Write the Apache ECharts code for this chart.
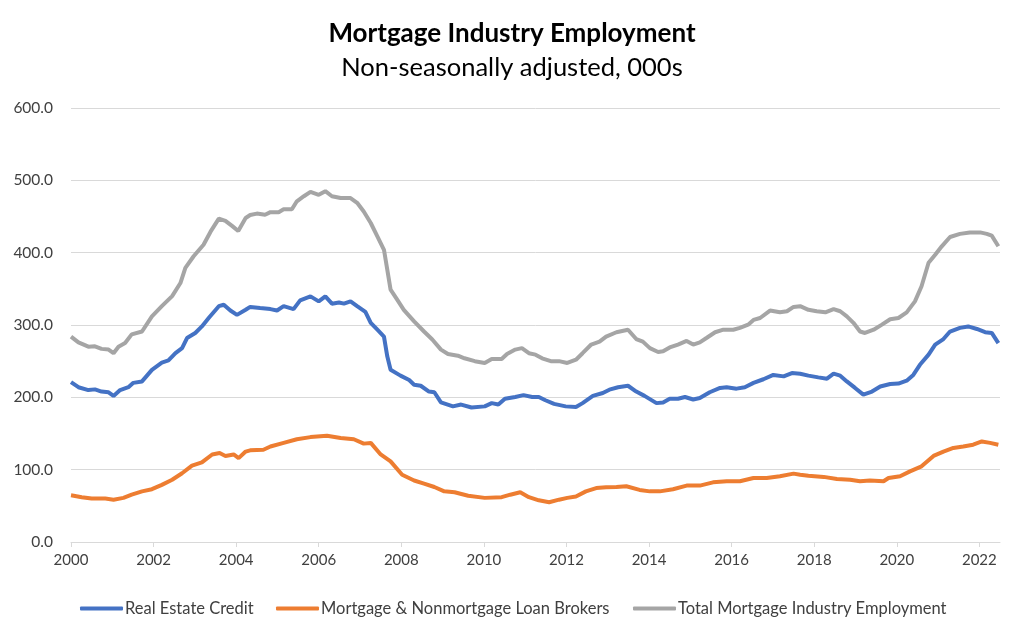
<!DOCTYPE html>
<html>
<head>
<meta charset="utf-8">
<script src="https://cdn.jsdelivr.net/npm/echarts@6/dist/echarts.min.js"></script>
<style>
html,body{margin:0;padding:0;background:#fff;}
#chart{width:1024px;height:636px;}
</style>
</head>
<body>
<div id="chart"></div>
<script>
// Tick labels
const xTickYears = [2000,2002,2004,2006,2008,2010,2012,2014,2016,2018,2020,2022];
const seriesNames = ['Real Estate Credit','Mortgage & Nonmortgage Loan Brokers','Total Mortgage Industry Employment'];

// Real Estate Credit (000s)
const creditYears = [2000.00,2000.18,2000.42,2000.58,2000.74,2000.91,2001.03,2001.19,2001.39,2001.51,2001.72,2001.96,2002.20,2002.36,2002.53,2002.69,2002.81,2003.01,2003.17,2003.34,2003.58,2003.70,2003.86,2004.02,2004.23,2004.34,2004.58,2004.83,2004.99,2005.15,2005.39,2005.55,2005.80,2006.00,2006.16,2006.32,2006.49,2006.61,2006.77,2006.93,2007.13,2007.26,2007.42,2007.58,2007.66,2007.74,2007.98,2008.19,2008.31,2008.47,2008.67,2008.80,2008.96,2009.25,2009.45,2009.70,2010.02,2010.19,2010.35,2010.51,2010.76,2010.96,2011.17,2011.33,2011.49,2011.70,2011.98,2012.23,2012.39,2012.64,2012.88,2013.04,2013.25,2013.49,2013.69,2013.89,2014.18,2014.34,2014.50,2014.70,2014.87,2015.07,2015.23,2015.47,2015.72,2015.88,2016.12,2016.32,2016.53,2016.77,2017.01,2017.26,2017.46,2017.66,2017.86,2018.10,2018.31,2018.47,2018.63,2018.79,2018.99,2019.19,2019.40,2019.60,2019.84,2020.04,2020.24,2020.40,2020.56,2020.77,2020.93,2021.13,2021.29,2021.53,2021.73,2021.94,2022.14,2022.30,2022.46];
const creditValues = [221,214,210,211,208,207,202,210,214,220,222,238,248,251,261,268,282,289,298,310,326,328,320,314,321,325,323.5,322,320,326,322,334,339.6,332.7,339.6,329.5,331,329.5,332.7,326,318,303,293.5,284,256.7,238,230,224,217.5,216,208,207,193,187.5,190,186,187.5,192,190,198,200.5,203,200.5,200.5,196,191,187.5,186.6,192,202,206,210.6,214,216,208,202,192,193,198,198,200.5,197,199,207,213,214,212,214,220,225,231,229,233.6,232.7,230,227.6,225.8,232.7,230,222,213,203.7,208,215,218.4,219,223,231,245,259,272.8,280.6,291,296,298,294.5,290,289,275];

// Mortgage & Nonmortgage Loan Brokers (000s)
const brokerYears = [2000.00,2000.26,2000.50,2000.83,2001.03,2001.27,2001.47,2001.72,2001.96,2002.20,2002.45,2002.69,2002.93,2003.17,2003.42,2003.60,2003.74,2003.94,2004.06,2004.23,2004.34,2004.66,2004.83,2005.15,2005.47,2005.80,2006.20,2006.53,2006.85,2007.09,2007.26,2007.50,2007.74,2008.02,2008.31,2008.55,2008.80,2009.04,2009.29,2009.62,2010.02,2010.43,2010.64,2010.88,2011.09,2011.33,2011.58,2011.82,2012.02,2012.23,2012.47,2012.72,2012.96,2013.21,2013.45,2013.77,2014.02,2014.26,2014.58,2014.91,2015.23,2015.55,2015.88,2016.20,2016.53,2016.85,2017.17,2017.50,2017.66,2017.86,2018.23,2018.55,2018.87,2019.11,2019.35,2019.68,2019.80,2020.08,2020.32,2020.60,2020.89,2021.13,2021.37,2021.61,2021.85,2022.06,2022.26,2022.46];
const brokerValues = [64.5,62,60,60,58.5,61,65.4,70,73,79,86,95,105.5,110,121,123,119,121,116,125,126.7,127.6,132,137,142,145,147,143.8,142,136,137,121,111.5,93,85,80.6,76,70,68.7,64,61,62,65.4,68.7,62,57.6,55,58.5,61,63,70,74.6,75.6,76,77,72,70,70,73,78,78,82.5,84,84,88.5,88.5,91,94.5,93,91.7,90,87,86,84,85,84,88.5,91,97.7,104.6,119,125,130,132,134.5,139,137,134.5];

// Total Mortgage Industry Employment (000s)
const totalYears = [2000.00,2000.18,2000.42,2000.58,2000.74,2000.91,2001.03,2001.15,2001.31,2001.47,2001.72,2001.96,2002.20,2002.45,2002.65,2002.77,2002.97,2003.21,2003.38,2003.58,2003.74,2003.90,2004.05,2004.23,2004.34,2004.50,2004.70,2004.83,2005.03,2005.15,2005.35,2005.47,2005.64,2005.80,2006.00,2006.16,2006.32,2006.53,2006.77,2006.93,2007.09,2007.26,2007.42,2007.58,2007.66,2007.74,2007.90,2008.06,2008.31,2008.55,2008.75,2008.96,2009.13,2009.37,2009.53,2009.78,2010.02,2010.19,2010.43,2010.56,2010.76,2010.92,2011.09,2011.25,2011.41,2011.62,2011.82,2012.02,2012.23,2012.39,2012.60,2012.80,2012.96,2013.21,2013.49,2013.69,2013.85,2014.02,2014.22,2014.34,2014.50,2014.70,2014.91,2015.07,2015.23,2015.39,2015.60,2015.80,2016.04,2016.20,2016.40,2016.53,2016.69,2016.93,2017.17,2017.34,2017.50,2017.66,2017.86,2018.06,2018.27,2018.47,2018.63,2018.79,2018.95,2019.11,2019.23,2019.44,2019.64,2019.84,2020.04,2020.24,2020.44,2020.60,2020.77,2020.93,2021.09,2021.29,2021.53,2021.77,2022.02,2022.18,2022.30,2022.46];
const totalValues = [284,276,270,270.5,267,266,261,270,275,287,291,312,326,340,358,379,395,411,429,447,444,437,430,448,452,454,452.5,456,456,460,460,471,478,484,480,485,478,475.5,475.5,469,457,441,422.6,404,376.5,349,335,321,305,291,280,266,260,257.6,254,250,247.5,253,253,260,266,268,261,259,254,250,250,247.5,252,261,273,277,284,290,293.5,280.6,277,268,262.7,263.6,269,273,278,273,276,282,290,293.5,293.5,296,300.5,307,309.7,320,317.5,319,325,326,321,319,317.5,322,319,312,303,291,289,293.5,300.5,308,309.7,317.5,332.7,353.5,386,397,408.8,421.7,426,428,428,426,423.5,408.8];

const zip = (xs, ys) => xs.map((x, i) => [x, ys[i]]);
const colors = ['#4472C4', '#ED7D31', '#A5A5A5'];
const FONT = 'Lato';

const chart = echarts.init(document.getElementById('chart'), null, {renderer: 'canvas'});
const legendBase = {
  top: 595, icon: 'roundRect', itemWidth: 43, itemHeight: 4, itemGap: 0,
  textStyle: {fontFamily: FONT, fontSize: 16.5, color: '#404040', padding: [0,0,0,-3]}
};
chart.setOption({
  animation: false,
  backgroundColor: '#fff',
  color: colors,
  title: {
    text: 'Mortgage Industry Employment',
    subtext: 'Non-seasonally adjusted, 000s',
    left: 'center', top: 14, itemGap: 4,
    textStyle: {fontFamily: FONT, fontSize: 26, fontWeight: 'bold', color: '#000', lineHeight: 30},
    subtextStyle: {fontFamily: FONT, fontSize: 25.5, color: '#000', lineHeight: 30}
  },
  legend: [
    Object.assign({}, legendBase, {left: 75, data: [seriesNames[0]]}),
    Object.assign({}, legendBase, {left: 271, data: [seriesNames[1]]}),
    Object.assign({}, legendBase, {left: 628, data: [seriesNames[2]]})
  ],
  grid: {left: 71, right: 24, top: 108, bottom: 94, containLabel: false},
  xAxis: {
    type: 'value', min: 2000, max: 2022.5, interval: 2,
    axisLine: {show: true, lineStyle: {color: '#d9d9d9', width: 1}},
    axisTick: {show: true, length: 5, lineStyle: {color: '#d9d9d9'}, customValues: xTickYears},
    axisLabel: {customValues: xTickYears, fontFamily: FONT, fontSize: 15, color: '#404040', margin: 11, formatter: v => String(v)},
    splitLine: {show: false}
  },
  yAxis: {
    type: 'value', min: 0, max: 600, interval: 100,
    axisLine: {show: false}, axisTick: {show: false},
    axisLabel: {fontFamily: FONT, fontSize: 15.5, color: '#404040', margin: 18, formatter: v => v.toFixed(1)},
    splitLine: {lineStyle: {color: '#d9d9d9', width: 1}}
  },
  series: [
    {name: seriesNames[0], type: 'line', data: zip(creditYears, creditValues), showSymbol: false, lineStyle: {width: 4, color: colors[0]}, itemStyle: {color: colors[0]}},
    {name: seriesNames[1], type: 'line', data: zip(brokerYears, brokerValues), showSymbol: false, lineStyle: {width: 4, color: colors[1]}, itemStyle: {color: colors[1]}},
    {name: seriesNames[2], type: 'line', data: zip(totalYears, totalValues), showSymbol: false, lineStyle: {width: 4, color: colors[2]}, itemStyle: {color: colors[2]}}
  ]
});
</script>
</body>
</html>
